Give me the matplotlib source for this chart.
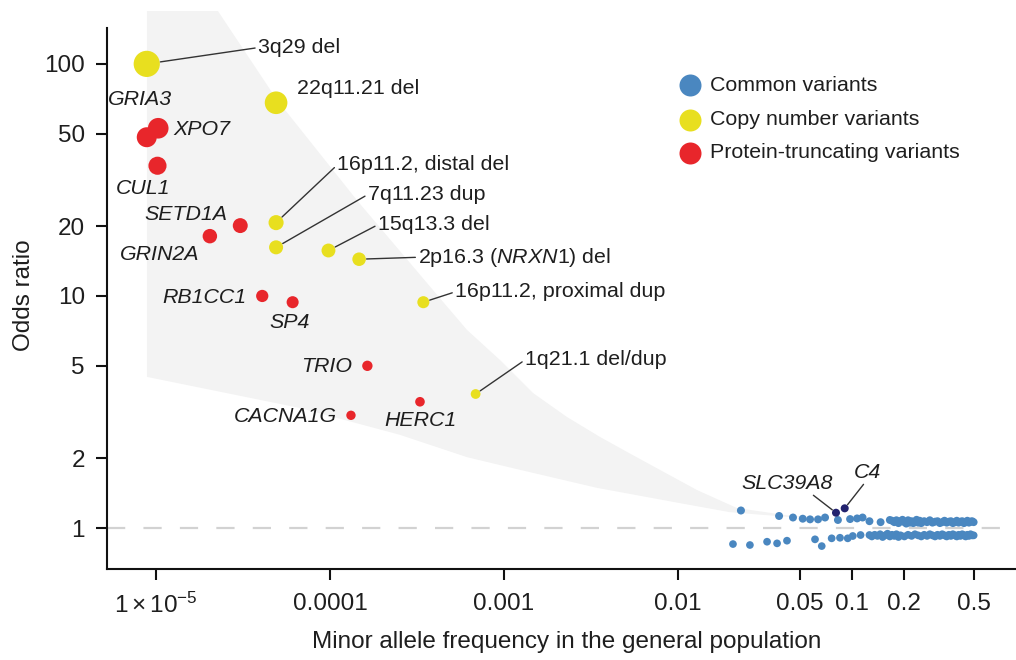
import numpy as np
import matplotlib
matplotlib.use('Agg')
import matplotlib.pyplot as plt
from matplotlib.ticker import NullLocator

plt.rcParams['font.family'] = ['Liberation Sans', 'DejaVu Sans']
plt.rcParams['mathtext.fontset'] = 'custom'
plt.rcParams['mathtext.rm'] = 'Liberation Sans'
plt.rcParams['mathtext.it'] = 'Liberation Sans:italic'

#-----DATA-----
# copy number variants
cnv_names = ['3q29 del', '22q11.21 del', '16p11.2, distal del', '7q11.23 dup',
             '15q13.3 del', '2p16.3 ($\\mathit{NRXN1}$) del',
             '16p11.2, proximal dup', '1q21.1 del/dup']
cnv_maf = [8.85e-6, 4.9e-5, 4.9e-5, 4.9e-5, 9.8e-5, 1.47e-4, 3.44e-4, 6.87e-4]
cnv_or = [100, 68, 20.7, 16.2, 15.7, 14.4, 9.4, 3.78]

# protein-truncating variants
ptv_names = ['GRIA3', 'XPO7', 'CUL1', 'SETD1A', 'GRIN2A', 'RB1CC1', 'SP4',
             'TRIO', 'HERC1', 'CACNA1G']
ptv_maf = [8.85e-6, 1.03e-5, 1.02e-5, 3.05e-5, 2.04e-5, 4.08e-5, 6.1e-5,
           1.64e-4, 3.29e-4, 1.32e-4]
ptv_or = [48.3, 52.8, 36.4, 20.1, 18.1, 10.0, 9.4, 5.0, 3.5, 3.06]

# common variants, risk-increasing row
common_up_maf = [0.023, 0.0381, 0.0458, 0.0521, 0.0574, 0.0638, 0.070, 0.083,
                 0.0975, 0.107, 0.115, 0.126, 0.146, 0.165,
                 0.17, 0.175, 0.18, 0.185, 0.19, 0.195, 0.2, 0.205, 0.21, 0.215,
                 0.22, 0.225, 0.23, 0.235, 0.24, 0.245,
                 0.25, 0.26, 0.27, 0.28, 0.29, 0.3, 0.31, 0.32, 0.33, 0.34,
                 0.35, 0.36, 0.37, 0.38, 0.39, 0.4, 0.41, 0.42, 0.43, 0.44,
                 0.45, 0.46, 0.47, 0.48, 0.49, 0.5]
common_up_or = [1.19, 1.127, 1.11, 1.097, 1.09, 1.09, 1.11, 1.083,
                1.093, 1.10, 1.11, 1.07, 1.06, 1.083,
                1.075, 1.06, 1.08, 1.05, 1.07, 1.085, 1.06, 1.045, 1.08, 1.055,
                1.07, 1.05, 1.065, 1.085, 1.055, 1.075,
                1.05, 1.07, 1.06, 1.08, 1.055, 1.065, 1.07, 1.05, 1.06, 1.075,
                1.055, 1.065, 1.07, 1.05, 1.06, 1.075, 1.055, 1.065, 1.07, 1.05,
                1.06, 1.075, 1.055, 1.065, 1.07, 1.06]

# common variants, protective row
common_lo_maf = [0.0207, 0.0259, 0.0325, 0.0371, 0.0423, 0.0613, 0.067, 0.0764,
                 0.0853, 0.0945, 0.101, 0.112, 0.126,
                 0.13, 0.135, 0.14, 0.145, 0.15, 0.155, 0.16, 0.165, 0.17,
                 0.175, 0.18, 0.185, 0.19, 0.2, 0.21, 0.22,
                 0.23, 0.24, 0.25, 0.26, 0.27, 0.28, 0.29, 0.3, 0.31, 0.32,
                 0.33, 0.34, 0.35, 0.36, 0.37, 0.38, 0.39, 0.4, 0.41, 0.42,
                 0.43, 0.44, 0.45, 0.46, 0.47, 0.48, 0.49, 0.5]
common_lo_or = [0.853, 0.845, 0.873, 0.859, 0.882, 0.894, 0.836, 0.903,
                0.908, 0.903, 0.924, 0.933, 0.933,
                0.92, 0.935, 0.925, 0.94, 0.915, 0.93, 0.945, 0.92, 0.935,
                0.925, 0.94, 0.915, 0.93, 0.92, 0.935, 0.925,
                0.94, 0.93, 0.92, 0.935, 0.925, 0.94, 0.93, 0.92, 0.935, 0.925,
                0.94, 0.93, 0.92, 0.935, 0.925, 0.94, 0.93, 0.92, 0.935, 0.925,
                0.94, 0.93, 0.92, 0.935, 0.925, 0.94, 0.93, 0.93]

# highlighted common variants
hl_names = ['SLC39A8', 'C4']
hl_maf = [0.0809, 0.0908]
hl_or = [1.164, 1.216]

# shaded region boundaries
band_up_maf = [8.87e-6, 2.27e-5, 4.96e-5, 1.45e-4, 3.91e-4, 6.13e-4, 9.48e-4,
               1.468e-3, 2.30e-3, 3.56e-3, 5.51e-3, 0.01286, 0.0218, 0.044, 0.06]
band_up_or = [169, 169, 70.0, 25.5, 10.6, 7.14, 5.30, 3.82, 3.01, 2.47, 2.06,
              1.458, 1.22, 1.13, 1.11]
band_lo_maf = [8.87e-6, 6.72e-5, 2.53e-4, 6.13e-4, 1.13e-3, 3.42e-3, 0.01027,
               0.0199, 0.044]
band_lo_or = [4.48, 3.29, 2.52, 2.02, 1.81, 1.49, 1.28, 1.17, 1.115]

xtick_vals = [1e-5, 1e-4, 1e-3, 1e-2, 0.05, 0.1, 0.2, 0.5]
xtick_labels = ['$1\\times10^{-5}$', '0.0001', '0.001', '0.01', '0.05', '0.1', '0.2', '0.5']
ytick_vals = [1, 2, 5, 10, 20, 50, 100]
ytick_labels = ['1', '2', '5', '10', '20', '50', '100']

legend_labels = ['Common variants', 'Copy number variants', 'Protein-truncating variants']
#-----DATA-----

BLUE = '#4a87c0'
YELLOW = '#e8df1f'
RED = '#e8262b'
NAVY = '#22226e'
TXT = '#1e1e1e'

# label layout: offset (pt) from point, alignment, leader anchor on text
layout = {
    '3q29 del': (80, 11.7, 'left', (0, 0.5)),
    '22q11.21 del': (15, 10.6, 'left', None),
    '16p11.2, distal del': (44, 41.5, 'left', (0, 0.5)),
    '7q11.23 dup': (66, 38, 'left', (0, 0.5)),
    '15q13.3 del': (35.5, 18.5, 'left', (0, 0.5)),
    '2p16.3 ($\\mathit{NRXN1}$) del': (42.5, 1.4, 'left', (0, 0.5)),
    '16p11.2, proximal dup': (22.8, 7.4, 'left', (0, 0.5)),
    '1q21.1 del/dup': (35.5, 24.5, 'left', (0, 0.5)),
    'GRIA3': (-4.8, 26.9, 'center', None),
    'XPO7': (10.6, -1.2, 'left', None),
    'CUL1': (-10.6, -16.1, 'center', None),
    'SETD1A': (-39, 7.7, 'center', None),
    'GRIN2A': (-36, -13.5, 'center', None),
    'RB1CC1': (-11, -0.9, 'right', None),
    'SP4': (-2.2, -14.9, 'center', None),
    'TRIO': (-11.2, -0.5, 'right', None),
    'HERC1': (0, -13.2, 'center', None),
    'CACNA1G': (-10.3, -0.5, 'right', None),
    'SLC39A8': (-35.3, 21.4, 'center', (0.75, 0)),
    'C4': (16.1, 26.1, 'center', (0.45, 0)),
}


def radius_px(o):
    return 2.9 + 1.02 * np.sqrt(np.asarray(o, dtype=float))


def marker_area(o):
    return (2 * radius_px(o) * 0.72) ** 2


fig = plt.figure(figsize=(10.16, 6.6), dpi=100)
ax = fig.add_axes([107 / 1016, 1 - 569 / 660, 909 / 1016, 558 / 660])
ax.set_xscale('log')
ax.set_yscale('log')
ax.set_xlim(5.23e-6, 0.876)
ax.set_ylim(0.666, 169)

# shaded region
poly_x = band_up_maf + band_lo_maf[::-1]
poly_y = band_up_or + band_lo_or[::-1]
ax.fill(poly_x, poly_y, color='#f3f3f3', lw=0, zorder=0)

ax.axhline(1, color='#d2d2d2', lw=1.6, dashes=(8.2, 8.2), zorder=1)

ax.scatter(common_up_maf, common_up_or, s=marker_area(common_up_or), color=BLUE, lw=0, zorder=2)
ax.scatter(common_lo_maf, common_lo_or, s=marker_area(common_lo_or), color=BLUE, lw=0, zorder=2)
ax.scatter(hl_maf, hl_or, s=marker_area(hl_or), color=NAVY, lw=0, zorder=3)
ax.scatter(cnv_maf, cnv_or, s=marker_area(cnv_or), color=YELLOW, lw=0, zorder=3)
ax.scatter(ptv_maf, ptv_or, s=marker_area(ptv_or), color=RED, lw=0, zorder=3)

names = cnv_names + ptv_names + hl_names
mafs = cnv_maf + ptv_maf + hl_maf
ors = cnv_or + ptv_or + hl_or
italic = set(ptv_names + hl_names)
for nm, mx, oy in zip(names, mafs, ors):
    dx, dy, ha, rel = layout[nm]
    kw = {}
    if rel is not None:
        kw['arrowprops'] = dict(arrowstyle='-', color='#333333', lw=1.0,
                                shrinkA=0, shrinkB=radius_px(oy) * 0.72 + 0.5,
                                relpos=rel)
    ax.annotate(nm, (mx, oy), xytext=(dx, dy), textcoords='offset points',
                ha=ha, va='center', fontsize=15.4, color=TXT,
                fontstyle='italic' if nm in italic else 'normal', zorder=4, **kw)

# legend
leg_cols = [BLUE, YELLOW, RED]
leg_y = [0.867, 0.805, 0.746]
for lab, col, yy in zip(legend_labels, leg_cols, leg_y):
    ax.scatter([0.641], [yy], s=(22 * 0.72) ** 2, color=col, lw=0,
               transform=ax.transAxes, clip_on=False, zorder=4)
    ax.text(0.663, yy, lab, transform=ax.transAxes, ha='left', va='center',
            fontsize=15.4, color=TXT)

# axes styling
for side in ['top', 'right']:
    ax.spines[side].set_visible(False)
for side in ['left', 'bottom']:
    ax.spines[side].set_linewidth(1.5)
    ax.spines[side].set_color('#111111')
ax.spines['left'].set_bounds(0.666, 143)

ax.set_xticks(xtick_vals)
ax.set_xticklabels(xtick_labels)
ax.set_yticks(ytick_vals)
ax.set_yticklabels(ytick_labels)
ax.xaxis.set_minor_locator(NullLocator())
ax.yaxis.set_minor_locator(NullLocator())
ax.tick_params(axis='both', direction='out', length=8, width=1.5, color='#111111',
               labelsize=17.5, labelcolor=TXT)
ax.tick_params(axis='x', pad=9)
ax.tick_params(axis='y', pad=8)

ax.set_xlabel('Minor allele frequency in the general population', fontsize=17.5, color=TXT)
ax.set_ylabel('Odds ratio', fontsize=17.5, color=TXT)
ax.xaxis.set_label_coords(0.506, -0.112)
ax.yaxis.set_label_coords(-0.079, 0.49)

fig.savefig('out.png', dpi=100)
